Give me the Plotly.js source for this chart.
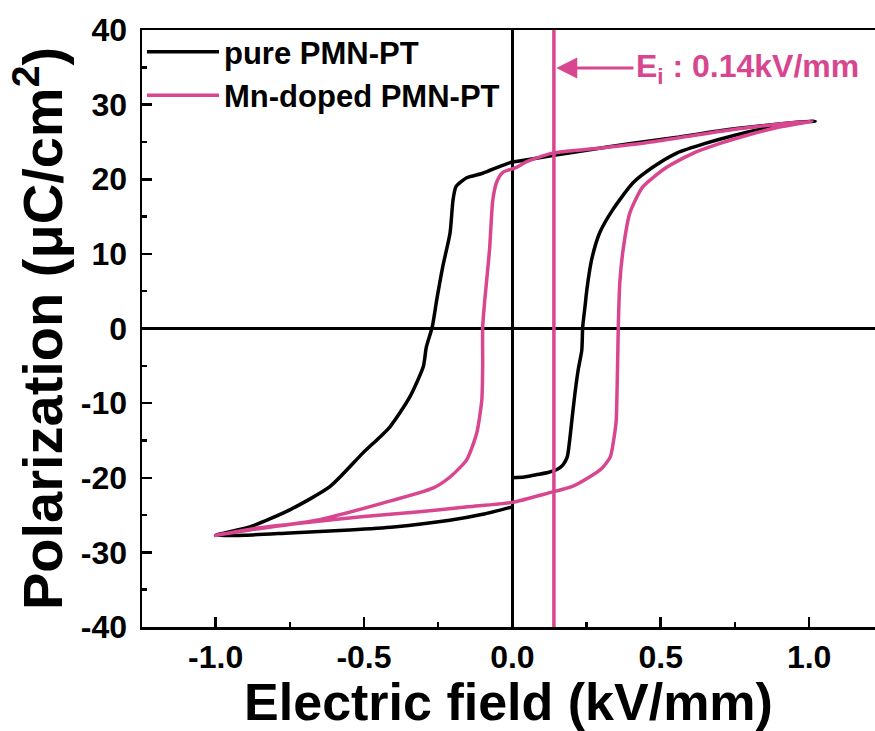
<!DOCTYPE html>
<html>
<head>
<meta charset="utf-8">
<script src="https://cdn.plot.ly/plotly-3.0.1.min.js"></script>
<style>html,body{margin:0;padding:0;background:#fff;overflow:hidden}</style>
</head>
<body>
<div id="chart" style="width:875px;height:731px"></div>
<script>
// pure PMN-PT loop (starts at E=0, goes to +Emax, -Emax, back to 0)
const pureE = [0.0,0.04,0.08,0.12,0.15,0.17,0.185,0.193,0.2,0.21,0.222,0.234,0.237,0.245,0.251,0.267,0.294,0.338,0.406,0.473,0.554,0.65,0.75,0.85,0.95,1.02,
  0.95,0.85,0.7,0.55,0.4,0.25,0.14,0.05,-0.01,-0.1,-0.154,-0.19,-0.2,-0.21,-0.235,-0.255,-0.27,-0.29,-0.30,-0.346,-0.413,-0.504,-0.615,-0.75,-0.885,-1.0,
  -0.9,-0.75,-0.548,-0.4,-0.211,-0.1,0.0];
const pureP = [-20.0,-19.9,-19.6,-19.3,-18.9,-18.3,-17.2,-15.0,-12.5,-9.0,-5.5,-2.9,0.2,3.0,5.2,9.2,12.8,15.9,19.5,21.6,23.5,24.8,25.9,26.8,27.5,27.8,
  27.6,27.2,26.5,25.6,24.8,23.9,23.2,22.6,22.2,20.8,20.2,19.0,17.2,12.8,8.2,3.8,0.2,-2.5,-5.1,-9.2,-13.2,-16.7,-21.2,-24.3,-26.6,-27.7,
  -27.7,-27.4,-27.0,-26.6,-25.7,-24.9,-23.9];

// Mn-doped PMN-PT loop
const mnE = [0.0,0.126,0.2,0.26,0.30,0.33,0.345,0.35,0.353,0.355,0.357,0.362,0.373,0.396,0.44,0.52,0.61,0.7,0.8,0.9,1.01,
  0.9,0.75,0.6,0.45,0.3,0.136,0.05,0.014,-0.033,-0.053,-0.066,-0.077,-0.093,-0.1,-0.1,-0.103,-0.12,-0.154,-0.21,-0.268,-0.437,-0.66,-0.885,-1.0,
  -0.85,-0.716,-0.5,-0.322,-0.15,0.0];
const mnP = [-23.3,-22.0,-21.2,-19.9,-18.8,-17.2,-14.0,-12.3,-8.0,-4.0,0.2,6.1,10.5,15.5,19.0,21.6,23.5,24.8,26.0,27.0,27.8,
  27.4,26.7,25.8,24.9,24.2,23.5,22.4,21.6,20.9,19.6,17.2,10.5,3.8,0.2,-5.1,-9.6,-14.0,-17.6,-19.9,-21.4,-23.4,-25.7,-27.0,-27.7,
  -26.7,-26.1,-25.2,-24.6,-23.9,-23.3];

const seriesNames = ['pure PMN-PT', 'Mn-doped PMN-PT'];
const Ei = 0.14;               // internal bias field, kV/mm
const EiLabel = 'E<sub>i</sub> : 0.14kV/mm';
const xTicks = [-1.0, -0.5, 0.0, 0.5, 1.0];
const xTickText = ['-1.0', '-0.5', '0.0', '0.5', '1.0'];
const yTicks = [-40, -30, -20, -10, 0, 10, 20, 30, 40];
const yTickText = ['-40', '-30', '-20', '-10', '0', '10', '20', '30', '40'];

const PINK = '#d8468f';
const FONT = 'Arial, "Liberation Sans", sans-serif';

const traces = [
  {x: pureE, y: pureP, name: seriesNames[0], mode: 'lines', type: 'scatter',
   line: {color: '#000000', width: 3.5, shape: 'spline', smoothing: 0.6}},
  {x: mnE, y: mnP, name: seriesNames[1], mode: 'lines', type: 'scatter',
   line: {color: PINK, width: 3.5, shape: 'spline', smoothing: 0.6}}
];

const layout = {
  width: 875, height: 731,
  margin: {l: 142, r: 0, t: 30, b: 104},
  paper_bgcolor: '#ffffff', plot_bgcolor: '#ffffff',
  font: {family: FONT, color: '#000', weight: 700},
  showlegend: true,
  legend: {x: 0.0, y: 1.008, xanchor: 'left', yanchor: 'top', bgcolor: 'rgba(0,0,0,0)',
           borderwidth: 0, itemwidth: 72, font: {size: 31, family: FONT, weight: 700}},
  xaxis: {
    range: [-1.248, 1.222], tickvals: xTicks, ticktext: xTickText,
    ticks: 'inside', ticklen: 10, tickwidth: 2.5, tickcolor: '#000',
    minor: {dtick: 0.25, tick0: 0, ticks: 'inside', ticklen: 5, tickwidth: 2.5, tickcolor: '#000'},
    showline: true, linewidth: 2.5, linecolor: '#000', mirror: true,
    showgrid: false, zeroline: true, zerolinecolor: '#000', zerolinewidth: 3,
    tickfont: {size: 32, family: FONT, weight: 700},
    title: {text: 'Electric field (kV/mm)', font: {size: 52, family: FONT, weight: 700}, standoff: 0}
  },
  yaxis: {
    range: [-40, 40], tickvals: yTicks, ticktext: yTickText,
    ticks: 'inside', ticklen: 10, tickwidth: 2.5, tickcolor: '#000',
    minor: {dtick: 5, tick0: 0, ticks: 'inside', ticklen: 5, tickwidth: 2.5, tickcolor: '#000'},
    showline: true, linewidth: 2.5, linecolor: '#000', mirror: false,
    showgrid: false, zeroline: true, zerolinecolor: '#000', zerolinewidth: 3,
    tickfont: {size: 32, family: FONT, weight: 700}, ticklabelstandoff: 6,
    title: {text: 'Polarization (μC/cm<sup>2</sup>)', font: {size: 56, family: FONT, weight: 700}, standoff: 0}
  },
  shapes: [
    {type: 'line', xref: 'x', yref: 'paper', x0: Ei, x1: Ei, y0: 0, y1: 1,
     line: {color: PINK, width: 3.5}, layer: 'above'}
  ],
  annotations: [
    {xref: 'x', yref: 'y', x: Ei + 0.008, y: 34.9, axref: 'x', ayref: 'y', ax: 0.413, ay: 34.9,
     text: '', showarrow: true, arrowhead: 2, arrowsize: 1.4, arrowwidth: 3, arrowcolor: PINK},
    {xref: 'x', yref: 'y', x: 0.41, y: 34.9, xanchor: 'left', yanchor: 'middle', showarrow: false,
     text: EiLabel, font: {size: 32, family: FONT, weight: 700, color: PINK}}
  ]
};

Plotly.newPlot('chart', traces, layout, {displayModeBar: false, staticPlot: true});
</script>
</body>
</html>
